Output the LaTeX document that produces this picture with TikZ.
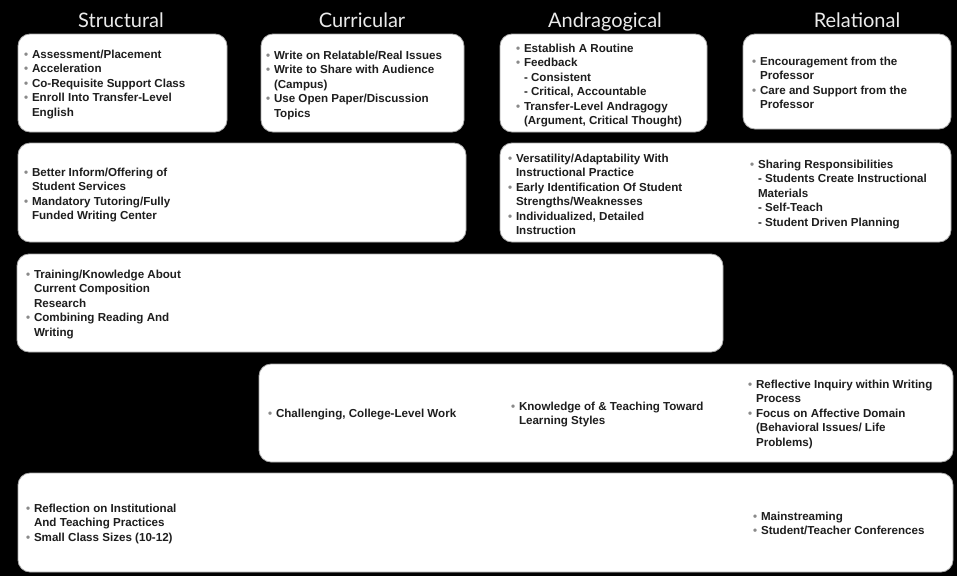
\documentclass[tikz,border=0pt]{standalone}
\usepackage{fontspec}
\setmainfont{Liberation Sans}
\newfontfamily\headfont{Lato}
\definecolor{txtc}{HTML}{1E1E1E}
\definecolor{bulc}{HTML}{8A8A8A}
\definecolor{edgec}{HTML}{A8A8A8}
\definecolor{headc}{HTML}{EAEAEA}
\newcommand\bu{\strut\makebox[8pt][l]{\textcolor{bulc}{\char"2022}}}
\newcommand\ind{\strut\hspace*{8pt}}
\tikzset{
  box/.style={draw=edgec, line width=0.8pt, fill=white, rounded corners=12pt, inner sep=0pt, outer sep=0pt, anchor=north west},
  txt/.style={anchor=north west, inner sep=0pt, outer sep=0pt, align=left, text=txtc, font=\fontsize{11.6}{14.5}\selectfont\bfseries},
  head/.style={anchor=base, inner sep=0pt, text=headc, font=\headfont\fontsize{20}{22}\selectfont}
}
\begin{document}
\begin{tikzpicture}[x=1pt,y=-1pt]
\fill[black] (0,0) rectangle (957,576);
\useasboundingbox (0,0) rectangle (957,576);
% headers
\node[head] (h1) at (121,27) {Structural};
\node[head] (h2) at (362,27) {Curricular};
\node[head] (h3) at (605,27) {Andragogical};
\node[head] (h4) at (857,27) {Relational};
% boxes
\node[box, minimum width=209pt, minimum height=98pt] (s1) at (18,34) {};
\node[box, minimum width=203pt, minimum height=98pt] (c1) at (261,34) {};
\node[box, minimum width=207pt, minimum height=98pt] (a1) at (500,34) {};
\node[box, minimum width=208pt, minimum height=95pt] (r1) at (743,34) {};
\node[box, minimum width=448pt, minimum height=99pt] (s2) at (18,143) {};
\node[box, minimum width=451pt, minimum height=99pt] (a2) at (500,143) {};
\node[box, minimum width=706pt, minimum height=98pt] (s3) at (17,254) {};
\node[box, minimum width=694pt, minimum height=98pt] (c4) at (259,364) {};
\node[box, minimum width=935pt, minimum height=99pt] (s5) at (18,473) {};
% texts
\node[txt] (t1) at (24,48) {\bu Assessment/Placement\\ \bu Acceleration\\ \bu Co-Requisite Support Class\\ \bu Enroll Into Transfer-Level\\ \ind English};
\node[txt] (t2) at (266,49) {\bu Write on Relatable/Real Issues\\ \bu Write to Share with Audience\\ \ind (Campus)\\ \bu Use Open Paper/Discussion\\ \ind Topics};
\node[txt] (t3) at (516,42) {\bu Establish A Routine\\ \bu Feedback\\ \ind - Consistent\\ \ind - Critical, Accountable\\ \bu Transfer-Level Andragogy\\ \ind (Argument, Critical Thought)};
\node[txt] (t4) at (752,55) {\bu Encouragement from the\\ \ind Professor\\ \bu Care and Support from the\\ \ind Professor};
\node[txt] (t5) at (24,166) {\bu Better Inform/Offering of\\ \ind Student Services\\ \bu Mandatory Tutoring/Fully\\ \ind Funded Writing Center};
\node[txt] (t6) at (508,152) {\bu Versatility/Adaptability With\\ \ind Instructional Practice\\ \bu Early Identification Of Student\\ \ind Strengths/Weaknesses\\ \bu Individualized, Detailed\\ \ind Instruction};
\node[txt] (t7) at (750,158) {\bu Sharing Responsibilities\\ \ind - Students Create Instructional\\ \ind Materials\\ \ind - Self-Teach\\ \ind - Student Driven Planning};
\node[txt] (t8) at (26,268) {\bu Training/Knowledge About\\ \ind Current Composition\\ \ind Research\\ \bu Combining Reading And\\ \ind Writing};
\node[txt] (t9) at (268,407) {\bu Challenging, College-Level Work};
\node[txt] (t10) at (511,400) {\bu Knowledge of \& Teaching Toward\\ \ind Learning Styles};
\node[txt] (t11) at (748,378) {\bu Reflective Inquiry within Writing\\ \ind Process\\ \bu Focus on Affective Domain\\ \ind (Behavioral Issues/ Life\\ \ind Problems)};
\node[txt] (t12) at (26,502) {\bu Reflection on Institutional\\ \ind And Teaching Practices\\ \bu Small Class Sizes (10-12)};
\node[txt] (t13) at (753,510) {\bu Mainstreaming\\ \bu Student/Teacher Conferences};
\end{tikzpicture}
\end{document}
